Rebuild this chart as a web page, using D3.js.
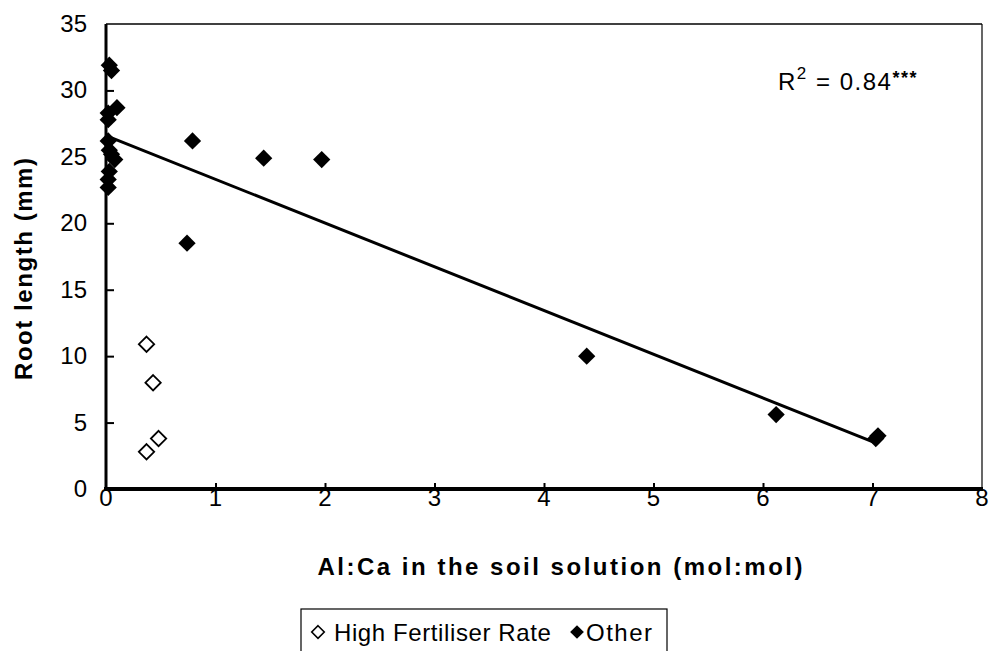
<meta charset="utf-8">
<title>Root length vs Al:Ca</title>
<body style="margin:0;background:#fff">
<script src="https://d3js.org/d3.v7.min.js"></script>
<script>
// data
var otherX = [0.05, 0.03, 0.10, 0.02, 0.02, 0.02, 0.03, 0.05, 0.08, 0.03, 0.02, 0.02,
              0.79, 1.44, 1.97, 0.74, 4.39, 6.12, 7.05, 7.03];
var otherY = [31.5, 31.9, 28.7, 28.3, 27.8, 26.2, 25.5, 25.2, 24.8, 23.9, 23.3, 22.7,
              26.2, 24.9, 24.8, 18.5, 10.0, 5.6, 4.0, 3.8];
var highX = [0.37, 0.43, 0.48, 0.37];
var highY = [10.9, 8.0, 3.8, 2.8];
var trendX = [0, 7.05];
var trendY = [26.6, 3.4];
var xTicks = [0, 1, 2, 3, 4, 5, 6, 7, 8];
var yTicks = [0, 5, 10, 15, 20, 25, 30, 35];
var legendNames = ['High Fertiliser Rate', 'Other'];

var width = 989, height = 651;
var font = 'Arial, "Liberation Sans", sans-serif';

var x = d3.scaleLinear().domain([0, 8]).range([106, 982]);
var y = d3.scaleLinear().domain([0, 35]).range([489, 24]);

var svg = d3.select('body').append('svg')
    .attr('width', width)
    .attr('height', height)
    .style('display', 'block');

var diamond = d3.symbol().type(d3.symbolDiamond2);

// frame (top + right thin)
svg.append('line')
    .attr('x1', x(0)).attr('x2', x(8)).attr('y1', y(35)).attr('y2', y(35))
    .style('stroke', '#000').style('stroke-width', 1.5);
svg.append('line')
    .attr('x1', x(8)).attr('x2', x(8)).attr('y1', y(35)).attr('y2', y(0))
    .style('stroke', '#000').style('stroke-width', 1.2);

// axes, ticks pointing inward
var yAxis = svg.append('g')
    .attr('transform', 'translate(' + x(0) + ',0)')
    .call(d3.axisRight(y).tickValues(yTicks.slice(1, -1)).tickSize(8).tickFormat(''));
yAxis.select('.domain').remove();
yAxis.selectAll('line').style('stroke-width', 2);

var xAxis = svg.append('g')
    .attr('transform', 'translate(0,' + y(0) + ')')
    .call(d3.axisTop(x).tickValues(xTicks.slice(1, -1)).tickSize(6).tickFormat(''));
xAxis.select('.domain').remove();
xAxis.selectAll('line').style('stroke-width', 2);

svg.append('line')
    .attr('x1', x(0)).attr('x2', x(0)).attr('y1', y(35)).attr('y2', y(0))
    .style('stroke', '#000').style('stroke-width', 3);
svg.append('line')
    .attr('x1', x(0) - 2).attr('x2', x(8) + 1).attr('y1', y(0)).attr('y2', y(0))
    .style('stroke', '#000').style('stroke-width', 4);

// tick labels
svg.selectAll('text.ylab')
    .data(yTicks).enter().append('text')
    .attr('class', 'ylab')
    .attr('x', 87)
    .attr('y', function(d) { return y(d) + 8; })
    .attr('text-anchor', 'end')
    .style('font-family', font).style('font-size', '24px')
    .text(function(d) { return d; });

svg.selectAll('text.xlab')
    .data(xTicks).enter().append('text')
    .attr('class', 'xlab')
    .attr('x', function(d) { return x(d); })
    .attr('y', 506)
    .attr('text-anchor', 'middle')
    .style('font-family', font).style('font-size', '24px')
    .text(function(d) { return d; });

// axis titles
svg.append('text')
    .attr('x', 560).attr('y', 575)
    .attr('text-anchor', 'middle')
    .attr('textLength', 485).attr('lengthAdjust', 'spacing')
    .style('font-family', font).style('font-size', '24px').style('font-weight', 'bold')
    .text('Al:Ca in the soil solution (mol:mol)');

svg.append('text')
    .attr('transform', 'translate(32,269) rotate(-90)')
    .attr('text-anchor', 'middle')
    .attr('textLength', 222).attr('lengthAdjust', 'spacing')
    .style('font-family', font).style('font-size', '24px').style('font-weight', 'bold')
    .text('Root length (mm)');

// trend line
svg.append('line')
    .attr('x1', x(trendX[0])).attr('y1', y(trendY[0]))
    .attr('x2', x(trendX[1])).attr('y2', y(trendY[1]))
    .style('stroke', '#000').style('stroke-width', 3);

// points
svg.selectAll('path.other')
    .data(otherX).enter().append('path')
    .attr('class', 'other')
    .attr('d', diamond.size(190))
    .attr('transform', function(d, i) { return 'translate(' + x(d) + ',' + y(otherY[i]) + ')'; })
    .style('fill', '#000');

svg.selectAll('path.high')
    .data(highX).enter().append('path')
    .attr('class', 'high')
    .attr('d', diamond.size(150))
    .attr('transform', function(d, i) { return 'translate(' + x(d) + ',' + y(highY[i]) + ')'; })
    .style('fill', '#fff').style('stroke', '#000').style('stroke-width', 1.8);

// R^2 label
var r2 = svg.append('text')
    .attr('x', 778).attr('y', 90)
    .style('font-family', font).style('font-size', '24px')
    .style('letter-spacing', '1.5px');
r2.append('tspan').text('R');
r2.append('tspan').attr('dy', -11).style('font-size', '17px').text('2');
r2.append('tspan').attr('dy', 11).text(' = 0.84');
r2.append('tspan').attr('dy', -6).style('font-size', '18px').style('font-weight', 'bold').text('***');

// legend
svg.append('rect')
    .attr('x', 301).attr('y', 609)
    .attr('width', 366).attr('height', 60)
    .style('fill', 'none').style('stroke', '#000').style('stroke-width', 1.2);

svg.append('path')
    .attr('d', diamond.size(100))
    .attr('transform', 'translate(318,632)')
    .style('fill', '#fff').style('stroke', '#000').style('stroke-width', 1.6);
svg.append('text')
    .attr('x', 334).attr('y', 641)
    .style('font-family', font).style('font-size', '24px').style('letter-spacing', '0.6px')
    .text(legendNames[0]);

svg.append('path')
    .attr('d', diamond.size(120))
    .attr('transform', 'translate(577,632)')
    .style('fill', '#000');
svg.append('text')
    .attr('x', 586).attr('y', 641)
    .style('font-family', font).style('font-size', '24px').style('letter-spacing', '1.5px')
    .text(legendNames[1]);
</script>
</body>
